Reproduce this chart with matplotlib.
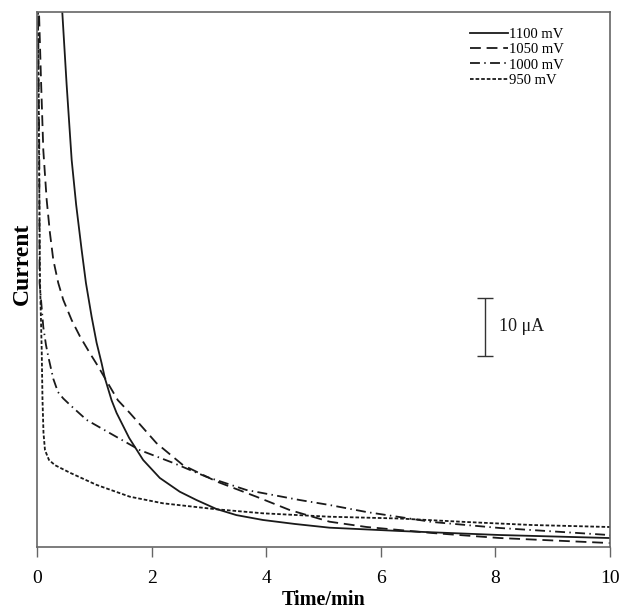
import numpy as np
import matplotlib
matplotlib.use('Agg')
import matplotlib.pyplot as plt

# values (time in min, current in uA above the axis floor)
t_1100 = [0.38, 0.441, 0.517, 0.605, 0.683, 0.779, 0.854, 0.953, 1.040, 1.127, 1.185, 1.301, 1.389,
          1.608, 1.852, 2.143, 2.491, 2.782, 3.131, 3.479, 3.942, 4.50, 5.105, 6.324, 8.066, 9.983, 10.0]
i_1100 = [100.0, 92.2, 79.7, 66.7, 59.0, 51.2, 45.5, 39.7, 35.2, 31.7, 29.1, 25.3, 23.1,
          18.8, 15.0, 11.9, 9.53, 8.1, 6.55, 5.5, 4.66, 3.97, 3.33, 2.76, 2.07, 1.55, 1.55]

t_1050 = [0.03, 0.035, 0.07, 0.110, 0.169, 0.226, 0.284, 0.371, 0.458, 0.605, 0.749, 0.923, 1.068, 1.185,
          1.411, 1.620, 2.085, 2.549, 3.131, 3.828, 4.408, 5.105, 5.75, 6.90, 8.07, 9.98, 10.0]
i_1050 = [100.0, 92.2, 80.5, 68.4, 59.8, 54.1, 49.5, 45.5, 42.6, 39.1, 36.3, 33.4, 31.1, 29.1,
          25.3, 23.1, 17.9, 14.1, 11.3, 8.67, 6.38, 4.36, 3.45, 2.41, 1.55, 0.69, 0.69]

t_1000 = [0.015, 0.017, 0.04, 0.045, 0.07, 0.11, 0.157, 0.197, 0.284, 0.366, 0.458, 0.575, 0.866, 1.329,
          1.794, 2.375, 2.956, 3.653, 4.582, 5.105, 5.75, 6.90, 8.07, 9.98, 10.0]
i_1000 = [100.0, 92.2, 68.4, 45.5, 42.6, 37.9, 34.8, 32.8, 29.0, 26.7, 25.6, 24.5, 21.9, 19.3,
          16.7, 14.5, 12.1, 9.83, 8.10, 7.24, 6.03, 4.31, 3.28, 2.07, 2.0]

t_950 = [0.015, 0.017, 0.035, 0.052, 0.082, 0.096, 0.113, 0.139, 0.209, 0.314, 0.575, 1.040, 1.620, 2.200,
         3.131, 3.942, 5.105, 6.32, 7.49, 8.64, 9.98, 10.0]
i_950 = [100.0, 92.2, 68.4, 46.0, 34.0, 25.3, 19.7, 16.7, 15.0, 14.1, 12.8, 10.7, 8.67, 7.53,
         6.50, 5.81, 5.22, 4.91, 4.31, 3.79, 3.45, 3.45]

labels = ['1100 mV', '1050 mV', '1000 mV', '950 mV']
x_ticks = [0, 2, 4, 6, 8, 10]

plt.rcParams['font.family'] = ['Liberation Serif', 'DejaVu Serif']

fig = plt.figure(figsize=(6.24, 6.12), dpi=100)
ax = fig.add_axes([0.0593, 0.1062, 0.9183, 0.8742])

ink = '#1a1a1a'
ax.plot(t_1100, i_1100, color=ink, linewidth=1.3, label=labels[0])
ax.plot(t_1050, i_1050, color=ink, linewidth=1.3, dashes=(6, 3.2), label=labels[1])
ax.plot(t_1000, i_1000, color=ink, linewidth=1.3, dashes=(5.5, 2.4, 0.8, 2.4), label=labels[2])
ax.plot(t_950, i_950, color=ink, linewidth=1.3, dashes=(2, 1.1), label=labels[3])

# 10 uA scale bar
ax.errorbar([7.82], [37.95], yerr=5, fmt='none', ecolor='#333333', elinewidth=1.0, capsize=5.5, capthick=1.0)
ax.text(8.07, 37.95, '10 μA', fontsize=13, va='center', ha='left', color=ink)

ax.set_xlim(0, 10)
ax.set_ylim(0, 92.2)
ax.set_xticks(x_ticks)
ax.set_xticklabels([str(v) for v in x_ticks], fontsize=14)
ax.set_yticks([])
ax.tick_params(axis='x', direction='out', length=7, width=1.0, color='#666666', pad=9.5)
for s in ax.spines.values():
    s.set_color('#666666')
    s.set_linewidth(1.2)

ax.set_xlabel('Time/min', fontsize=14.5, fontweight='bold', labelpad=2.5)
ax.set_ylabel('Current', fontsize=17, fontweight='bold')
ax.yaxis.set_label_coords(-0.008, 0.53)

ax.legend(loc='upper left', frameon=False, fontsize=10.5, handlelength=2.6,
          handletextpad=0.1, labelspacing=0.15, borderpad=0, borderaxespad=0,
          bbox_to_anchor=(0.7557, 0.971))

fig.savefig('out.png', dpi=100)
